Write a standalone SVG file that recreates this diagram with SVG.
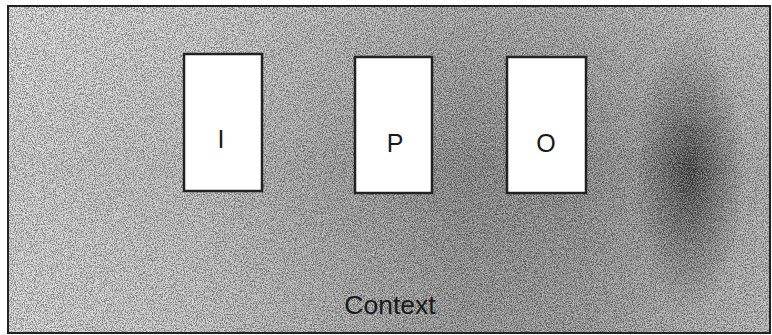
<svg xmlns="http://www.w3.org/2000/svg" width="772" height="335" viewBox="0 0 772 335">
  <style>
    .box { fill: #ffffff; stroke: #222222; stroke-width: 2.5; }
    .lbl { font-family: "Liberation Sans", Arial, sans-serif; font-size: 25px; fill: #1a1a1a; text-anchor: middle; }
    .ctx { font-family: "Liberation Sans", Arial, sans-serif; font-size: 26.5px; fill: #1a1a1a; text-anchor: middle; }
  </style>
  <defs>
    <linearGradient id="bg" x1="0" y1="0" x2="1" y2="0">
      <stop offset="0" stop-color="#d4d4d4"/>
      <stop offset="0.25" stop-color="#c0c0c0"/>
      <stop offset="0.45" stop-color="#a0a0a0"/>
      <stop offset="0.6" stop-color="#888888"/>
      <stop offset="0.75" stop-color="#8c8c8c"/>
      <stop offset="1" stop-color="#b0b0b0"/>
    </linearGradient>
    <radialGradient id="dark" cx="690" cy="170" r="110" gradientUnits="userSpaceOnUse" gradientTransform="translate(690 170) scale(0.5 1.3) translate(-690 -170)">
      <stop offset="0" stop-color="#202020" stop-opacity="0.75"/>
      <stop offset="1" stop-color="#202020" stop-opacity="0"/>
    </radialGradient>
    <linearGradient id="vfade" x1="0" y1="0" x2="0" y2="1">
      <stop offset="0" stop-color="#ffffff" stop-opacity="0.3"/>
      <stop offset="0.5" stop-color="#ffffff" stop-opacity="0"/>
      <stop offset="1" stop-color="#ffffff" stop-opacity="0.15"/>
    </linearGradient>
    <filter id="noise" x="0" y="0" width="100%" height="100%">
      <feTurbulence type="fractalNoise" baseFrequency="0.9 0.7" numOctaves="2" seed="3" result="t"/>
      <feColorMatrix in="t" type="matrix" values="0 0 0 0 0  0 0 0 0 0  0 0 0 0 0  0 0 0 -4 2.4" result="n"/>
      <feComposite in="n" in2="SourceGraphic" operator="in"/>
    </filter>
    <filter id="noise2" x="0" y="0" width="100%" height="100%">
      <feTurbulence type="fractalNoise" baseFrequency="0.8 0.9" numOctaves="2" seed="11" result="t"/>
      <feColorMatrix in="t" type="matrix" values="0 0 0 0 1  0 0 0 0 1  0 0 0 0 1  0 0 0 -4 2.3" result="n"/>
      <feComposite in="n" in2="SourceGraphic" operator="in"/>
    </filter>
  </defs>
  <g id="background">
    <rect x="0" y="0" width="772" height="335" fill="#ffffff"/>
    <rect x="8" y="6" width="762" height="327" fill="url(#bg)"/>
    <rect x="8" y="6" width="762" height="327" fill="url(#dark)"/>
    <rect x="8" y="6" width="762" height="327" fill="url(#vfade)"/>
    <rect x="8" y="6" width="762" height="327" fill="#000000" opacity="0.4" filter="url(#noise)"/>
    <rect x="8" y="6" width="762" height="327" fill="#ffffff" opacity="0.35" filter="url(#noise2)"/>
    <rect x="8" y="6" width="762" height="327" fill="none" stroke="#222222" stroke-width="2"/>
  </g>
  <g id="node-I">
    <rect class="box" x="184" y="54" width="78" height="137"/>
    <text class="lbl" x="221" y="148">I</text>
  </g>
  <g id="node-P">
    <rect class="box" x="355" y="57" width="77" height="136"/>
    <text class="lbl" x="395" y="152">P</text>
  </g>
  <g id="node-O">
    <rect class="box" x="507" y="57" width="79" height="136"/>
    <text class="lbl" x="546" y="152">O</text>
  </g>
  <g id="connectors"></g>
  <g id="label-context">
    <text class="ctx" x="390" y="314">Context</text>
  </g>
</svg>
